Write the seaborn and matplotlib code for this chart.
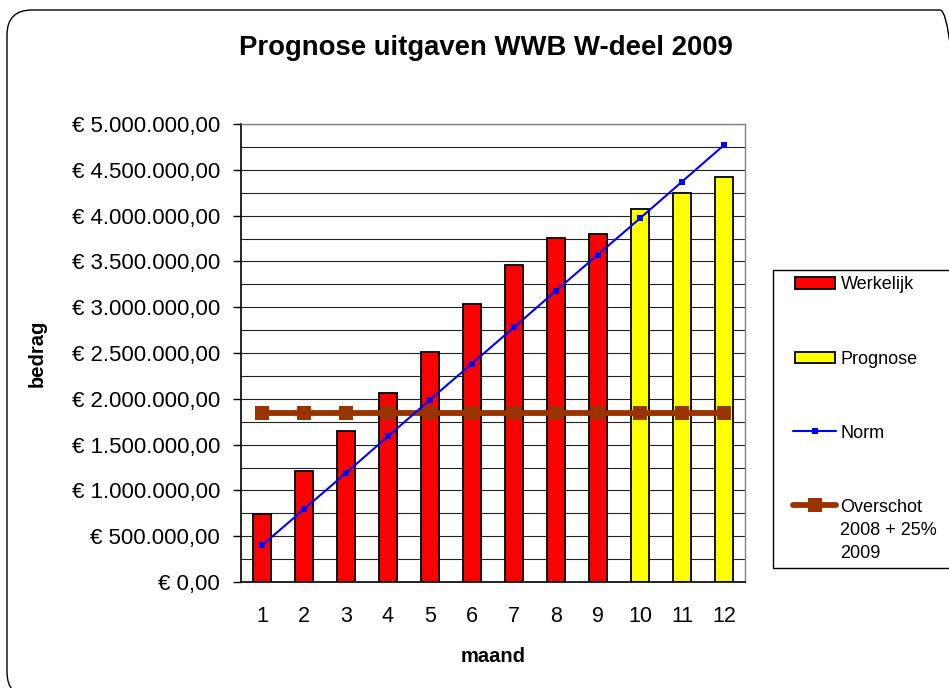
import numpy as np
import pandas as pd
import matplotlib
matplotlib.use("Agg")
import matplotlib.pyplot as plt
import seaborn as sns
from matplotlib.patches import Patch, Rectangle, FancyBboxPatch
from matplotlib.lines import Line2D
from matplotlib.legend_handler import HandlerPatch, HandlerLine2D
from matplotlib.ticker import FuncFormatter, MultipleLocator, FixedLocator
from matplotlib.transforms import IdentityTransform

# ---------------- data ----------------
months = [str(m) for m in range(1, 13)]
werkelijk_months = months[:9]
werkelijk = [740000, 1212000, 1648000, 2060000, 2514000, 3040000, 3460000, 3760000, 3800000]
prognose_months = months[9:]
prognose = [4070000, 4250000, 4420000]
norm = [400000, 795000, 1190000, 1590000, 1990000, 2385000, 2780000, 3180000,
        3575000, 3970000, 4370000, 4770000]
overschot = [1848000] * 12

title = "Prognose uitgaven WWB W-deel 2009"
xlabel = "maand"
ylabel = "bedrag"
labels = ["Werkelijk", "Prognose", "Norm", "Overschot\n2008 + 25%\n2009"]

# ---------------- style ----------------
sns.set_style("white")
plt.rcParams["font.family"] = ["Liberation Sans", "DejaVu Sans"]
plt.rcParams["text.color"] = "black"
plt.rcParams["axes.labelcolor"] = "black"
plt.rcParams["xtick.color"] = "black"
plt.rcParams["ytick.color"] = "black"

W, H = 949, 688
fig = plt.figure(figsize=(W / 100, H / 100), dpi=100)
fig.patch.set_facecolor("white")

# rounded chart border
fig.patches.append(FancyBboxPatch((7, -9), 958, 687, boxstyle="round,pad=0,rounding_size=25",
                                  transform=IdentityTransform(), facecolor="none",
                                  edgecolor="black", linewidth=1.0))

ax = fig.add_axes([241 / W, 106 / H, 504 / W, 458 / H])

df = pd.DataFrame({
    "maand": werkelijk_months + prognose_months,
    "bedrag": werkelijk + prognose,
    "soort": ["Werkelijk"] * len(werkelijk) + ["Prognose"] * len(prognose),
})
colors = {"Werkelijk": "#FF0000", "Prognose": "#FFFF00"}
sns.barplot(data=df, x="maand", y="bedrag", hue="soort", order=months, dodge=False,
            width=0.43, palette=colors, saturation=1, edgecolor="black", linewidth=1.3,
            legend=False, ax=ax, zorder=2)

pos = np.arange(len(months))
sns.lineplot(x=pos, y=overschot, color="#993300", linewidth=4.2, marker="s",
             markersize=9.5, markeredgewidth=0, ax=ax, zorder=3)
sns.lineplot(x=pos, y=norm, color="#0000FF", linewidth=1.5, marker="s",
             markersize=4.5, markeredgewidth=0, ax=ax, zorder=4)

ax.set_xlim(-0.5, 11.5)
ax.set_ylim(0, 5000000)
ax.yaxis.set_major_locator(MultipleLocator(500000))
ax.yaxis.set_minor_locator(MultipleLocator(250000))


def eur(v, p):
    s = f"{v:,.2f}".replace(",", "X").replace(".", ",").replace("X", ".")
    return f"€ {s}"


ax.yaxis.set_major_formatter(FuncFormatter(eur))
ax.set_axisbelow(True)
ax.grid(True, axis="y", which="both", color="#222222", linewidth=0.8)
ax.grid(False, axis="x")

ax.set_xticks(pos)
ax.set_xticklabels(months)
ax.xaxis.set_minor_locator(FixedLocator(np.arange(-0.5, 12, 1)))
ax.tick_params(axis="x", which="major", length=0, pad=17, labelsize=15.5)
ax.tick_params(axis="x", which="minor", length=5, width=1, color="black", direction="out")
ax.tick_params(axis="y", which="major", length=6, width=1, color="black", direction="out",
               pad=9, labelsize=16, left=True)
ax.tick_params(axis="y", which="minor", length=0)

for side in ["left", "bottom"]:
    ax.spines[side].set_color("black")
    ax.spines[side].set_linewidth(1.2)
for side in ["top", "right"]:
    ax.spines[side].set_color("#808080")
    ax.spines[side].set_linewidth(1.0)

ax.set_xlabel(xlabel, fontsize=14.5, fontweight="bold", labelpad=15)
ax.set_ylabel(ylabel, fontsize=14.5, fontweight="bold", labelpad=18)

fig.text(486 / W, 1 - 48 / H, title, ha="center", va="center", fontsize=19.8,
         fontweight="bold")

# ---------------- legend ----------------
LFS = 13
OFF = 11.0   # pt
HW = 28.8    # pt
HH = 8.0     # pt


def rect_func(legend, orig_handle, xdescent, ydescent, width, height, fontsize):
    return Rectangle((-xdescent + OFF, -ydescent + (height - HH) / 2), HW, HH)


class OffsetLine(HandlerLine2D):
    def __init__(self, dy=0.0, **kw):
        super().__init__(**kw)
        self.dy = dy

    def create_artists(self, legend, orig_handle, xdescent, ydescent, width, height,
                       fontsize, trans):
        arts = super().create_artists(legend, orig_handle, xdescent, ydescent, HW + 2,
                                      height, fontsize, trans)
        for a in arts:
            if isinstance(a, Line2D):
                a.set_xdata(np.asarray(a.get_xdata()) + OFF - 1)
                a.set_ydata(np.asarray(a.get_ydata()) + self.dy)
        return arts


h_w = Patch(facecolor="#FF0000", edgecolor="black", linewidth=1.3)
h_p = Patch(facecolor="#FFFF00", edgecolor="black", linewidth=1.3)
h_n = Line2D([], [], color="#0000FF", linewidth=1.5, marker="s", markersize=5,
             markeredgewidth=0)
h_o = Line2D([], [], color="#993300", linewidth=4.2, marker="s", markersize=9.5,
             markeredgewidth=0, solid_capstyle="round")

leg = fig.legend([h_w, h_p, h_n, h_o], labels, loc="upper left",
                 bbox_to_anchor=(773 / W, 1 - 270 / H, (975 - 773) / W, 0),
                 bbox_transform=fig.transFigure, mode="expand", borderaxespad=0,
                 fontsize=LFS, frameon=True, fancybox=False, framealpha=1,
                 edgecolor="black", borderpad=0.35, labelspacing=3.17,
                 handlelength=(OFF + HW + 1) / LFS, handletextpad=0.25, numpoints=1,
                 handler_map={h_w: HandlerPatch(patch_func=rect_func),
                              h_p: HandlerPatch(patch_func=rect_func),
                              h_n: OffsetLine(),
                              h_o: OffsetLine(dy=18.5)})
leg.get_frame().set_linewidth(1.0)
for t in leg.get_texts():
    t.set_linespacing(1.45)

fig.savefig("out.png", dpi=100)
